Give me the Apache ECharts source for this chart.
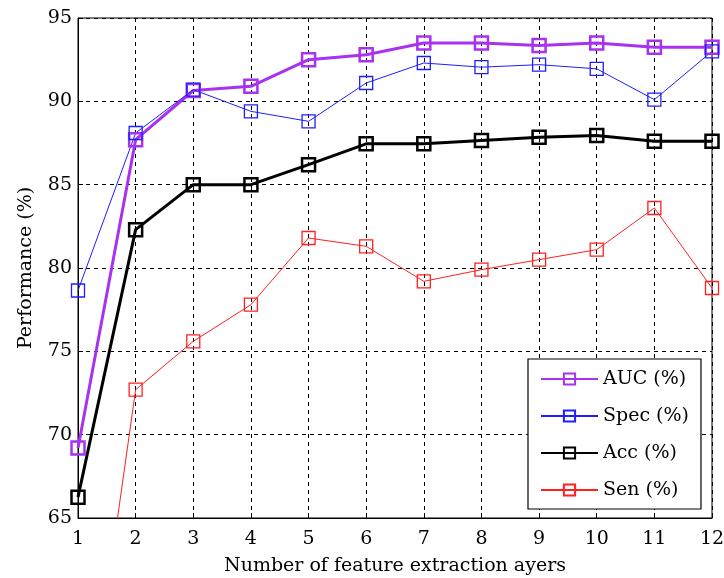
<!DOCTYPE html>
<html>
<head>
<meta charset="utf-8">
<script src="https://cdn.jsdelivr.net/npm/echarts@6/dist/echarts.min.js"></script>
<style>html,body{margin:0;padding:0;background:#fff;overflow:hidden;}#c{width:724px;height:578px;}</style>
</head>
<body>
<div id="c"></div>
<script>
const layers = [1,2,3,4,5,6,7,8,9,10,11,12];
const auc  = [69.2, 87.7, 90.65, 90.9, 92.5, 92.8, 93.5, 93.5, 93.35, 93.5, 93.25, 93.25];
const spec = [78.65, 88.1, 90.7, 89.4, 88.8, 91.1, 92.3, 92.05, 92.2, 91.95, 90.1, 93.0];
const acc  = [66.25, 82.3, 85.0, 85.0, 86.2, 87.45, 87.45, 87.65, 87.85, 87.95, 87.6, 87.6];
const sen  = [48.2, 72.7, 75.6, 77.8, 81.8, 81.3, 79.2, 79.9, 80.5, 81.1, 83.6, 78.8];
const seriesNames = ['AUC (%)', 'Spec (%)', 'Acc (%)', 'Sen (%)'];

const FONT = '"DejaVu Serif", serif';
const FS = 19;
function pairs(vals){ return layers.map((x,i)=>[x, vals[i]]); }
function mk(name, vals, color, lw, bw){
  return {
    name, type:'line', data: pairs(vals),
    symbol:'rect', symbolSize: 13, clip: true,
    lineStyle:{color, width: lw},
    itemStyle:{color:'rgba(255,255,255,0)', borderColor: color, borderWidth: bw},
    emphasis:{disabled:true}, animation:false
  };
}
const chart = echarts.init(document.getElementById('c'), null, {renderer:'canvas'});
const dashed = {show:true, lineStyle:{color:'#000', type:[4,4], width:1}};
chart.setOption({
  backgroundColor:'#fff',
  animation:false,
  grid:{left:78, right:12, top:18, bottom:60, containLabel:false, outerBoundsMode:'none',
        show:true, borderColor:'#000', borderWidth:1, backgroundColor:'transparent'},
  xAxis:{
    type:'value', min:1, max:12, interval:1,
    name:'Number of feature extraction ayers', nameLocation:'middle', nameGap:39,
    nameTextStyle:{fontFamily:FONT, fontSize:FS, color:'#000'},
    axisLine:{show:true, lineStyle:{color:'#000'}},
    axisTick:{show:true, inside:true, length:5, lineStyle:{color:'#000'}},
    axisLabel:{fontFamily:FONT, fontSize:FS, color:'#000', margin:12},
    splitLine: dashed
  },
  yAxis:{
    type:'value', min:65, max:95, interval:5,
    name:'Performance (%)', nameLocation:'middle', nameGap:42,
    nameTextStyle:{fontFamily:FONT, fontSize:FS, color:'#000'},
    axisLine:{show:true, lineStyle:{color:'#000'}},
    axisTick:{show:true, inside:true, length:5, lineStyle:{color:'#000'}},
    axisLabel:{fontFamily:FONT, fontSize:FS, color:'#000', margin:6},
    splitLine: dashed
  },
  legend:{
    orient:'vertical', left:528, top:359,
    data: seriesNames,
    itemWidth:57, itemHeight:14, itemGap:15,
    padding:[9,12,8,12],
    backgroundColor:'#fff', borderColor:'#000', borderWidth:1.2,
    textStyle:{fontFamily:FONT, fontSize:FS, color:'#000', lineHeight:22}
  },
  series:[
    mk(seriesNames[0], auc, '#A832F0', 3, 2.5),
    mk(seriesNames[1], spec, '#1E1EFF', 1, 1.3),
    mk(seriesNames[2], acc, '#000000', 3, 2.5),
    mk(seriesNames[3], sen, '#FF2020', 1, 1.3)
  ]
});
</script>
</body>
</html>
